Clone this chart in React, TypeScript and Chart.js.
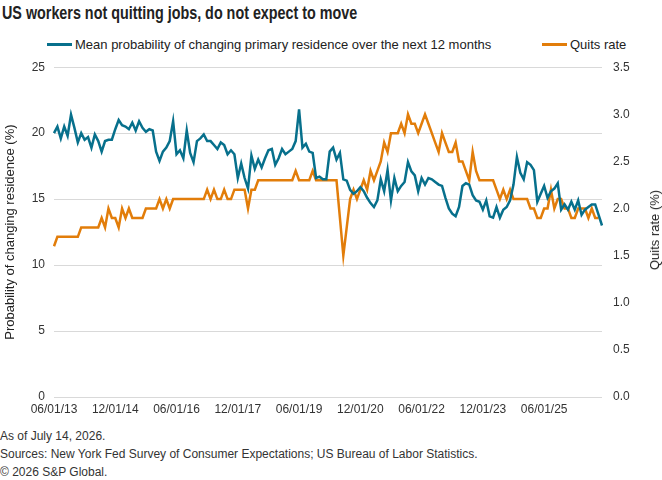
import React, { useEffect, useRef } from "react";
import { Chart, registerables } from "chart.js";

Chart.register(...registerables);

// Monthly series starting June 2013
const xTickLabels = [
  "06/01/13", "12/01/14", "06/01/16", "12/01/17", "06/01/19",
  "12/01/20", "06/01/22", "12/01/23", "06/01/25",
];
const monthsPerTick = 18;

// Mean probability of changing primary residence over the next 12 months (%)
const probMoving = [
  20.0, 20.5, 19.6, 20.5, 19.8, 21.4, 20.4, 19.3, 20.0, 19.5,
  19.7, 18.9, 19.9, 19.4, 18.6, 19.4, 19.5, 19.5, 20.3, 21.0,
  20.6, 20.5, 20.3, 20.8, 20.2, 20.9, 20.4, 20.1, 20.3, 20.2,
  18.6, 17.9, 18.6, 18.9, 19.4, 20.9, 18.4, 18.7, 18.1, 20.2,
  18.5, 17.8, 19.4, 19.6, 19.9, 19.4, 19.4, 19.1, 18.8, 19.3,
  19.1, 18.4, 18.7, 18.4, 16.6, 17.7, 16.6, 15.8, 18.3, 17.3,
  18.0, 17.4, 18.1, 18.7, 18.8, 17.6, 18.1, 18.8, 18.4, 18.6,
  18.8, 19.4, 21.8, 18.9, 19.2, 18.6, 18.5, 16.6, 16.7, 16.5,
  16.5, 18.6, 18.9, 18.0, 18.5, 16.5, 16.4, 15.7, 15.4, 15.6,
  15.9, 15.6, 15.1, 14.7, 14.4, 14.9, 16.5, 15.6, 17.2, 14.9,
  16.6, 15.6, 16.0, 16.3, 17.8, 17.1, 16.8, 15.6, 16.6, 16.1,
  16.6, 16.5, 16.3, 16.1, 16.0, 15.1, 14.3, 13.9, 13.7, 14.4,
  16.0, 16.2, 16.1, 15.3, 14.9, 14.8, 14.2, 14.9, 13.7, 13.6,
  14.4, 13.6, 14.2, 14.4, 14.9, 16.1, 18.2, 17.0, 16.5, 17.8,
  17.6, 17.2, 14.8, 15.4, 16.0, 15.1, 15.6, 15.8, 16.2, 14.2,
  14.6, 14.2, 14.8, 14.2, 14.9, 13.8, 14.2, 14.4, 14.6, 14.6,
  13.8, 13.0,
];

// Quits rate (%), one month shorter than the survey series
const quitsRate = [
  1.6, 1.7, 1.7, 1.7, 1.7, 1.7, 1.7, 1.7, 1.8, 1.8,
  1.8, 1.8, 1.8, 1.8, 1.9, 1.8, 2.0, 1.9, 1.9, 1.8,
  2.0, 1.9, 2.0, 1.9, 1.9, 1.9, 1.9, 2.0, 2.0, 2.0,
  2.0, 2.1, 2.0, 2.1, 2.0, 2.1, 2.1, 2.1, 2.1, 2.1,
  2.1, 2.1, 2.1, 2.1, 2.1, 2.2, 2.1, 2.2, 2.1, 2.1,
  2.2, 2.1, 2.1, 2.2, 2.2, 2.2, 2.2, 2.0, 2.2, 2.2,
  2.3, 2.3, 2.3, 2.3, 2.3, 2.3, 2.3, 2.3, 2.3, 2.3,
  2.3, 2.4, 2.3, 2.3, 2.3, 2.3, 2.4, 2.3, 2.3, 2.3,
  2.3, 2.3, 2.3, 2.3, 1.9, 1.5, 1.8, 2.1, 2.2, 2.1,
  2.2, 2.3, 2.2, 2.4, 2.3, 2.4, 2.5, 2.7, 2.6, 2.8,
  2.8, 2.8, 2.9, 2.8, 3.0, 2.9, 2.9, 2.8, 2.9, 3.0,
  2.9, 2.8, 2.7, 2.6, 2.8, 2.7, 2.6, 2.6, 2.7, 2.5,
  2.5, 2.4, 2.3, 2.6, 2.4, 2.3, 2.3, 2.3, 2.3, 2.3,
  2.2, 2.1, 2.2, 2.1, 2.2, 2.1, 2.1, 2.1, 2.1, 2.1,
  2.0, 2.0, 1.9, 1.9, 2.0, 2.0, 2.2, 2.0, 2.1, 2.1,
  2.0, 2.0, 1.9, 1.9, 2.0, 2.0, 2.0, 1.9, 2.0, 1.9,
  1.9, null,
];

const seriesNames = [
  "Mean probability of changing primary residence over the next 12 months",
  "Quits rate",
];
const seriesColors = ["#07708c", "#e27d0a"];

const leftTitle = "Probability of changing residence (%)";
const rightTitle = "Quits rate (%)";
const chartTitle = "US workers not quitting jobs, do not expect to move";
const footnotes = [
  "As of July 14, 2026.",
  "Sources: New York Fed Survey of Consumer Expectations; US Bureau of Labor Statistics.",
  "\u00a9 2026 S&P Global.",
];

const FONT = "'Liberation Sans', Arial, sans-serif";

export default function App() {
  const canvasRef = useRef<HTMLCanvasElement | null>(null);

  useEffect(() => {
    document.body.style.margin = "0";
    const canvas = canvasRef.current;
    if (!canvas) return;

    const categories = probMoving.map((_, i) => i);
    const tickFont = { family: FONT, size: 12 };

    const chart = new Chart(canvas, {
      type: "line",
      data: {
        labels: categories,
        datasets: [
          {
            label: seriesNames[0],
            data: probMoving,
            borderColor: seriesColors[0],
            backgroundColor: seriesColors[0],
            borderWidth: 2.5,
            pointRadius: 0,
            tension: 0,
            yAxisID: "y",
          },
          {
            label: seriesNames[1],
            data: quitsRate,
            borderColor: seriesColors[1],
            backgroundColor: seriesColors[1],
            borderWidth: 2.5,
            pointRadius: 0,
            tension: 0,
            yAxisID: "y2",
          },
        ],
      },
      options: {
        animation: false,
        responsive: false,
        maintainAspectRatio: false,
        layout: { padding: { top: 4, left: 0, right: 0, bottom: 0 } },
        plugins: {
          legend: { display: false },
          title: { display: false },
          tooltip: { enabled: false },
        },
        scales: {
          x: {
            type: "category",
            offset: false,
            grid: { display: false, drawTicks: false },
            border: { display: false },
            ticks: {
              autoSkip: false,
              maxRotation: 0,
              padding: 5,
              color: "#333",
              font: tickFont,
              callback: (_v: any, i: number) =>
                i % monthsPerTick === 0 ? xTickLabels[i / monthsPerTick] ?? "" : "",
            },
            afterFit: (s: any) => {
              s.height = 19;
            },
          },
          y: {
            position: "left",
            min: 0,
            max: 25,
            grid: { color: "#d9d9d9", lineWidth: 1, drawTicks: false },
            border: { display: false },
            ticks: { stepSize: 5, padding: 9, color: "#333", font: tickFont },
            title: {
              display: true,
              text: leftTitle,
              color: "#222",
              font: { family: FONT, size: 13 },
              padding: { top: 3, bottom: 0 },
            },
            afterFit: (s: any) => {
              s.width = 54;
            },
          },
          y2: {
            position: "right",
            min: 0,
            max: 3.5,
            grid: { display: false, drawTicks: false },
            border: { display: false },
            ticks: {
              stepSize: 0.5,
              padding: 11,
              color: "#333",
              font: tickFont,
              callback: (v: any) => Number(v).toFixed(1),
            },
            afterFit: (s: any) => {
              s.width = 60;
            },
          },
        },
      },
    });

    return () => chart.destroy();
  }, []);

  const swatch = (color: string) => (
    <span
      style={{
        display: "inline-block",
        width: 25,
        height: 3,
        background: color,
        marginRight: 3,
        verticalAlign: "middle",
      }}
    />
  );

  return (
    <div
      style={{
        position: "relative",
        width: 662,
        height: 480,
        background: "#fff",
        fontFamily: FONT,
        color: "#222",
        overflow: "hidden",
      }}
    >
      <div
        style={{
          position: "absolute",
          left: 2,
          top: 1,
          fontSize: 18.5,
          lineHeight: "24px",
          fontWeight: 700,
          whiteSpace: "nowrap",
          transform: "scaleX(0.775)",
          transformOrigin: "0 0",
        }}
      >
        {chartTitle}
      </div>

      <div
        style={{
          position: "absolute",
          left: 47,
          top: 36,
          fontSize: 13,
          lineHeight: "16px",
          whiteSpace: "nowrap",
        }}
      >
        {swatch(seriesColors[0])}
        <span style={{ verticalAlign: "middle" }}>{seriesNames[0]}</span>
      </div>
      <div
        style={{
          position: "absolute",
          left: 542,
          top: 36,
          fontSize: 13,
          lineHeight: "16px",
          whiteSpace: "nowrap",
        }}
      >
        {swatch(seriesColors[1])}
        <span style={{ verticalAlign: "middle" }}>{seriesNames[1]}</span>
      </div>

      <canvas
        ref={canvasRef}
        width={662}
        height={367}
        style={{ position: "absolute", left: 0, top: 49, width: 662, height: 367 }}
      />

      {/* right-axis title, reading bottom to top like the left one */}
      <div
        style={{
          position: "absolute",
          left: 655,
          top: 230,
          fontSize: 13,
          lineHeight: "16px",
          whiteSpace: "nowrap",
          transform: "translate(-50%, -50%) rotate(-90deg)",
        }}
      >
        {rightTitle}
      </div>

      <div
        style={{
          position: "absolute",
          left: 0,
          top: 427,
          fontSize: 12,
          lineHeight: "18px",
          color: "#333",
          whiteSpace: "nowrap",
        }}
      >
        {footnotes.map((t) => (
          <div key={t}>{t}</div>
        ))}
      </div>
    </div>
  );
}
